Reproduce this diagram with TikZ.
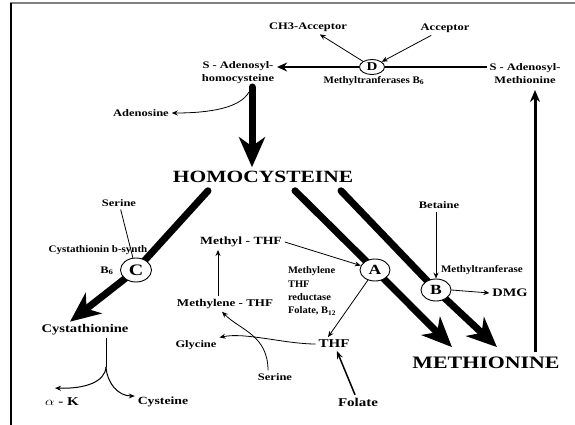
\documentclass[tikz,border=0pt]{standalone}
\usepackage{fontspec}
\setmainfont{Liberation Serif}
\usetikzlibrary{arrows.meta,shapes.geometric,backgrounds}
\newcommand\sx[2][1.25]{\scalebox{#1}[1]{#2}}
\newcommand\fs[1]{\fontsize{#1}{#1}\selectfont}
\begin{document}
\begin{tikzpicture}[x=1pt,y=-1pt,
  lbl/.style={inner sep=0pt,outer sep=3pt,font=\bfseries\fs{10}},
  enz/.style={draw,ellipse,fill=white,line width=0.9pt,inner sep=0pt,minimum width=30pt,minimum height=22pt,font=\bfseries\fs{14}},
  tarrow/.style={line width=0.8pt,-{Stealth[length=6pt,width=5pt]}},
  marrow/.style={line width=2.5pt,-{Stealth[length=10pt,width=9pt]}},
  harrow/.style={line width=7pt,line cap=round,-{Stealth[length=30pt,width=26pt,inset=9pt]}},
]
\useasboundingbox (0,0) rectangle (575,425);
\draw[gray, line width=1.5pt] (10,3) -- (575,3);
\draw[line width=1.2pt] (11,3) -- (11,425);

% ---- top: methyltransferase D
\node[lbl] (ch3) at (308,27) {\sx{CH3-Acceptor}};
\node[lbl] (acc) at (445,28) {\sx{Acceptor}};
\node[enz,minimum width=25pt,minimum height=15pt,font=\bfseries\fs{12}] (D) at (372,67) {\sx{D}};
\node[lbl,font=\bfseries\fontsize{10}{13}\selectfont] (sah) at (238,72) {\sx{\begin{tabular}{@{}c@{}}S - Adenosyl-\\homocysteine\end{tabular}}};
\node[lbl,font=\bfseries\fontsize{10}{13}\selectfont] (sam) at (525,74) {\sx{\begin{tabular}{@{}c@{}}S - Adenosyl-\\Methionine\end{tabular}}};
\node[lbl] (mtf) at (374,81) {\sx[1.1]{Methyltranferases B\textsubscript{6}}};
\node[lbl] (adeno) at (141,113) {\sx{Adenosine}};

\draw[tarrow] (D) -- (ch3);
\draw[tarrow] (acc) -- (D);
\draw[marrow] (D.west) -- (D.west -| sah.east);
\draw[line width=2.5pt] (D.east) -- (D.east -| sam.west);

% ---- homocysteine / methionine
\node[lbl,font=\bfseries\fs{17.2}] (homo) at (263,177) {\sx{HOMOCYSTEINE}};
\node[lbl,font=\bfseries\fs{17.5}] (met) at (486,363) {\sx{METHIONINE}};

\draw[harrow] ([xshift=14pt,yshift=1pt]sah.south) -- ([xshift=-11pt,yshift=1pt]homo.north);
\draw[tarrow] ([xshift=11pt,yshift=-4pt]sah.south) .. controls (240,108) and (210,113) .. (adeno.east);
\draw[line width=3pt,-{Stealth[length=12pt,width=10pt]}] ([xshift=49pt,yshift=2pt]met.north) -- ([xshift=10pt]sam.south);

% ---- transsulfuration (C)
\node[lbl] (ser1) at (119,203) {\sx{Serine}};
\node[lbl] (cbs) at (98,250) {\sx[1.1]{Cystathionin b-synth}};
\node[lbl] (b6) at (107,271) {\sx{B\textsubscript{6}}};
\node[enz,minimum width=31pt,minimum height=24pt,font=\bfseries\fs{16}] (C) at (136,270) {\sx{C}};
\node[lbl,font=\bfseries\fs{11.7}] (cysta) at (85,330) {\sx{Cystathionine}};
\node[lbl,font=\bfseries\fs{12}] (ak) at (62,402) {\sx{$\alpha$ - K}};
\node[lbl,font=\bfseries\fs{11}] (cys) at (163,402) {\sx{Cysteine}};
\coordinate (cj) at (106,367);

\draw[line width=0.8pt] (ser1) -- (C);
\draw[line width=1pt] ([xshift=21pt]cysta.south) -- (cj);
\draw[tarrow,line width=1pt] (cj) .. controls (105,382) and (85,389) .. ([xshift=-7pt,yshift=7pt]ak.north);
\draw[tarrow,line width=1pt] (cj) .. controls (107,383) and (118,396) .. ([yshift=6pt]cys.west);

% ---- folate cycle (A)
\node[enz,font=\bfseries\fs{14}] (A) at (375,270) {\sx{A}};
\node[lbl,font=\bfseries\fs{11}] (methyl) at (241,242) {\sx{Methyl - THF}};
\node[lbl,font=\bfseries\fs{10.4}] (mlene) at (225,304) {\sx{Methylene - THF}};
\node[lbl,font=\bfseries\fontsize{10}{13.3}\selectfont,anchor=west,outer sep=0pt] (mthfr) at (288,291) {\sx[1.05]{\begin{tabular}{@{}l@{}}Methylene\\THF\\reductase\\Folate, B\textsubscript{12}\end{tabular}}};
\node[lbl,font=\bfseries\fs{12}] (thf) at (334,344) {\sx{THF}};
\node[lbl] (gly) at (196,345) {\sx{Glycine}};
\node[lbl] (ser2) at (275,377) {\sx{Serine}};
\node[lbl,font=\bfseries\fs{12}] (fol) at (358,402) {\sx{Folate}};

\draw[tarrow] (methyl.east) -- (A);
\draw[tarrow] (A) -- ([xshift=-6pt]thf.north);
\draw[tarrow] ([xshift=-7pt]mlene.north) -- ([xshift=-23pt]methyl.south);
\draw[tarrow] (thf.west) .. controls (285,344) and (245,332) .. (gly.north east);
\draw[tarrow] ([xshift=-7pt]ser2.north) .. controls (268,335) and (240,330) .. ([xshift=-3pt]mlene.south);
\draw[line width=1.5pt,-{Stealth[length=8pt,width=6pt]}] (fol) -- (thf);

% ---- betaine (B)
\node[enz,font=\bfseries\fs{14}] (B) at (436,290) {\sx{B}};
\node[lbl] (bet) at (439,205) {\sx{Betaine}};
\node[lbl,anchor=west] (bhmt) at (438,270) {\sx[1.1]{Methyltranferase}};
\node[lbl,font=\bfseries\fs{11.5}] (dmg) at (510,293) {\sx{DMG}};

\draw[tarrow] (bet.south -| B) -- (B.north);
\draw[tarrow] (B.east) -- (dmg.west);

% ---- heavy pathway lines behind the enzymes
\begin{pgfonlayer}{background}
\draw[harrow] ([xshift=-55pt,yshift=-5pt]homo.south) -- (C.center) -- ([xshift=-15pt]cysta.north);
\draw[harrow] ([xshift=32pt,yshift=-5pt]homo.south) -- (A.center) -- ([xshift=-34pt,yshift=7pt]met.north);
\draw[harrow] ([xshift=78pt,yshift=-5pt]homo.south) -- (B.center) -- ([xshift=11pt,yshift=7pt]met.north);
\end{pgfonlayer}
\end{tikzpicture}
\end{document}
